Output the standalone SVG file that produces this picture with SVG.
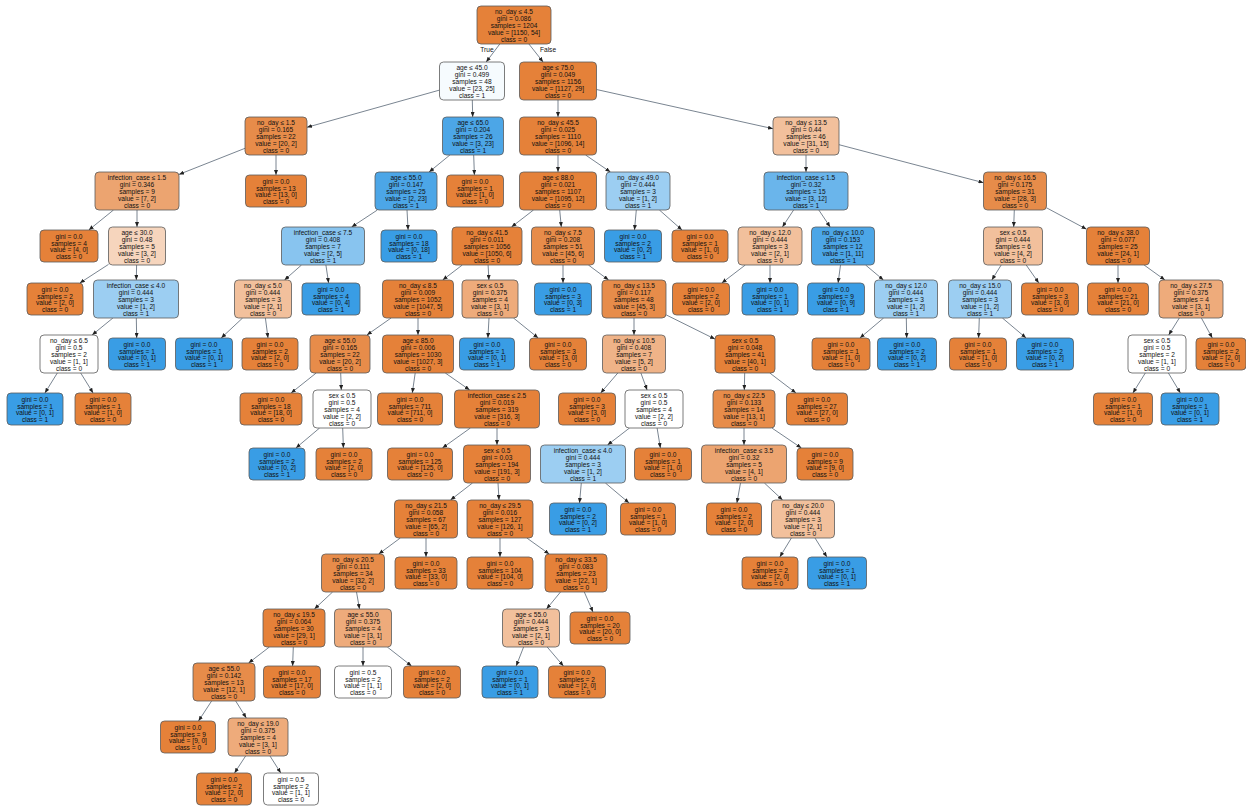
<svg xmlns="http://www.w3.org/2000/svg" width="1246" height="806" viewBox="0 0 1246 806">
<defs>
<marker id="ah" markerUnits="userSpaceOnUse" markerWidth="5" markerHeight="4" refX="5" refY="2" orient="auto"><path d="M0,0 L5,2 L0,4 z" fill="#222"/></marker>
<style>
g rect{stroke:#5a5a5a;stroke-width:0.8}
text{font-family:"Liberation Sans",Arial,sans-serif;font-size:6.6px;fill:#111;text-anchor:middle}
.e{stroke:#6b7785;stroke-width:0.9;fill:none;marker-end:url(#ah)}
.o{fill:#e58139}.o9{fill:#e78c4a}.o6{fill:#eca470}.o5{fill:#eeab7b}.o45{fill:#efb388}.o4{fill:#f2c09c}.o2{fill:#f6d5bd}
.w{fill:#ffffff}.w1{fill:#f6fbfe}.b{fill:#399de5}.b9{fill:#4ca6e7}.b7{fill:#6ab5eb}.b6{fill:#88c4ef}.b5{fill:#9ccef2}
</style>
</defs>
<rect x="0" y="0" width="1246" height="806" fill="#ffffff"/>
<g id="connectors">
<path class="e" d="M499.8,44 L486.2,62"/><path class="e" d="M528.9,44 L543.1,62"/>
<path class="e" d="M439.5,90.1 L307,127.3"/><path class="e" d="M472.3,100 L472.7,117"/>
<path class="e" d="M558,100 L558,117"/><path class="e" d="M596.5,89.5 L773,128.7"/>
<path class="e" d="M245,148.3 L179,174.4"/><path class="e" d="M276,155 L276,175"/>
<path class="e" d="M449.9,155 L429.1,172"/><path class="e" d="M473.7,155 L474.4,175"/>
<path class="e" d="M558,155 L558,172"/><path class="e" d="M585.6,155 L610.4,172"/>
<path class="e" d="M806,155 L806,172"/><path class="e" d="M839,144.7 L983.5,182.7"/>
<path class="e" d="M113.5,210 L88.8,230"/><path class="e" d="M137,210 L137,227"/>
<path class="e" d="M377.4,210 L351.6,227"/><path class="e" d="M407,210 L408.1,230"/>
<path class="e" d="M533.5,210 L511.5,227"/><path class="e" d="M559.7,210 L561.3,227"/>
<path class="e" d="M636.3,210 L634.5,230"/><path class="e" d="M659.4,210 L682,230"/>
<path class="e" d="M793.6,210 L782.4,227"/><path class="e" d="M818.8,210 L830.2,227"/>
<path class="e" d="M1014.3,210 L1013.7,227"/><path class="e" d="M1046.5,207.8 L1086.5,229.2"/>
<path class="e" d="M108.5,264.4 L79.8,283"/><path class="e" d="M136.6,265 L136.3,280"/>
<path class="e" d="M301.5,265 L284.5,280"/><path class="e" d="M325.9,265 L328.6,283"/>
<path class="e" d="M462.3,265 L442.7,280"/><path class="e" d="M488.1,265 L488.9,280"/>
<path class="e" d="M563,265 L563,283"/><path class="e" d="M588.4,265 L608.6,280"/>
<path class="e" d="M745.3,265 L721.8,283"/><path class="e" d="M770,265 L770,283"/>
<path class="e" d="M840.5,265 L838.1,283"/><path class="e" d="M865.6,265 L883.4,280"/>
<path class="e" d="M1001.2,265 L991.8,280"/><path class="e" d="M1026.2,265 L1038.8,283"/>
<path class="e" d="M1118,265 L1118,283"/><path class="e" d="M1144.1,265 L1164.9,280"/>
<path class="e" d="M112.9,318 L92.1,335"/><path class="e" d="M136.3,318 L136.7,338"/>
<path class="e" d="M242.6,318 L221.2,338"/><path class="e" d="M265.4,318 L268,338"/>
<path class="e" d="M391.1,318 L366.9,335"/><path class="e" d="M418,318 L418,335"/>
<path class="e" d="M489,318 L487.9,338"/><path class="e" d="M513.5,318 L538.2,338"/>
<path class="e" d="M634,318 L634,335"/><path class="e" d="M666,314.8 L715,339.1"/>
<path class="e" d="M883.6,318 L859.9,338"/><path class="e" d="M906.3,318 L906.7,338"/>
<path class="e" d="M979.3,318 L978.6,338"/><path class="e" d="M1002.4,318 L1026.1,338"/>
<path class="e" d="M1179.3,318 L1168.7,335"/><path class="e" d="M1201.4,318 L1212.3,338"/>
<path class="e" d="M57.3,373 L44.9,393"/><path class="e" d="M80.7,373 L93.1,393"/>
<path class="e" d="M316.2,373 L291.1,393"/><path class="e" d="M340.7,373 L341.3,390"/>
<path class="e" d="M415.2,373 L412.3,393"/><path class="e" d="M445.3,373 L469.7,390"/>
<path class="e" d="M617.8,373 L600.7,393"/><path class="e" d="M640.9,373 L647.1,390"/>
<path class="e" d="M744.7,373 L744.3,390"/><path class="e" d="M769.8,373 L796,393"/>
<path class="e" d="M1145.3,373 L1132.9,393"/><path class="e" d="M1168.4,373 L1180.4,393"/>
<path class="e" d="M319.6,428 L295.9,448"/><path class="e" d="M342.7,428 L343.4,448"/>
<path class="e" d="M470.4,428 L442.4,448"/><path class="e" d="M497,428 L497,445"/>
<path class="e" d="M629.5,428 L607.5,445"/><path class="e" d="M657.1,428 L660.4,448"/>
<path class="e" d="M744,428 L744,445"/><path class="e" d="M771.9,428 L801.4,448"/>
<path class="e" d="M472.5,483 L450.5,500"/><path class="e" d="M498,483 L499,500"/>
<path class="e" d="M581.3,483 L579.5,503"/><path class="e" d="M605.4,483 L629.1,503"/>
<path class="e" d="M740.5,483 L736.9,503"/><path class="e" d="M764.4,483 L782.6,500"/>
<path class="e" d="M791.4,538 L779.8,557"/><path class="e" d="M815,538 L826.9,557"/>
<path class="e" d="M400.3,538 L378.7,554"/><path class="e" d="M426,538 L426,557"/>
<path class="e" d="M500,538 L500,557"/><path class="e" d="M526.8,538 L549.2,554"/>
<path class="e" d="M332.6,592 L314.4,609"/><path class="e" d="M356.5,592 L359.5,609"/>
<path class="e" d="M560.5,592 L546.5,609"/><path class="e" d="M584.3,592 L593,612"/>
<path class="e" d="M269.4,647 L248.6,663"/><path class="e" d="M293.3,647 L292.6,666"/>
<path class="e" d="M363,647 L363,666"/><path class="e" d="M387.3,647 L411.6,666"/>
<path class="e" d="M523.6,647 L516.2,666"/><path class="e" d="M547.2,647 L563.4,666"/>
<path class="e" d="M211.6,701 L198.5,721"/><path class="e" d="M235.7,701 L246.3,718"/>
<path class="e" d="M245.6,756 L234.5,773"/><path class="e" d="M270,756 L280.8,773"/>
<text x="487" y="51.5">True</text><text x="548" y="51.5">False</text>
</g>
<g id="n0"><rect class="o" x="477" y="6" width="74" height="38" rx="4"/><text><tspan x="514" y="14.2">no_day ≤ 4.5</tspan><tspan x="514" y="21.1">gini = 0.086</tspan><tspan x="514" y="28">samples = 1204</tspan><tspan x="514" y="34.9">value = [1150, 54]</tspan><tspan x="514" y="41.8">class = 0</tspan></text></g>
<g id="n1"><rect class="w1" x="439.5" y="62" width="65" height="38" rx="4"/><text><tspan x="472" y="70.2">age ≤ 45.0</tspan><tspan x="472" y="77.1">gini = 0.499</tspan><tspan x="472" y="84">samples = 48</tspan><tspan x="472" y="90.9">value = [23, 25]</tspan><tspan x="472" y="97.8">class = 1</tspan></text></g>
<g id="n2"><rect class="o" x="519.5" y="62" width="77" height="38" rx="4"/><text><tspan x="558" y="70.2">age ≤ 75.0</tspan><tspan x="558" y="77.1">gini = 0.049</tspan><tspan x="558" y="84">samples = 1156</tspan><tspan x="558" y="90.9">value = [1127, 29]</tspan><tspan x="558" y="97.8">class = 0</tspan></text></g>
<g id="n3"><rect class="o9" x="245" y="117" width="62" height="38" rx="4"/><text><tspan x="276" y="125.2">no_day ≤ 1.5</tspan><tspan x="276" y="132.1">gini = 0.165</tspan><tspan x="276" y="139">samples = 22</tspan><tspan x="276" y="145.9">value = [20, 2]</tspan><tspan x="276" y="152.8">class = 0</tspan></text></g>
<g id="n4"><rect class="b9" x="442.5" y="117" width="61" height="38" rx="4"/><text><tspan x="473" y="125.2">age ≤ 65.0</tspan><tspan x="473" y="132.1">gini = 0.204</tspan><tspan x="473" y="139">samples = 26</tspan><tspan x="473" y="145.9">value = [3, 23]</tspan><tspan x="473" y="152.8">class = 1</tspan></text></g>
<g id="n5"><rect class="o" x="519.5" y="117" width="77" height="38" rx="4"/><text><tspan x="558" y="125.2">no_day ≤ 45.5</tspan><tspan x="558" y="132.1">gini = 0.025</tspan><tspan x="558" y="139">samples = 1110</tspan><tspan x="558" y="145.9">value = [1096, 14]</tspan><tspan x="558" y="152.8">class = 0</tspan></text></g>
<g id="n6"><rect class="o4" x="773" y="117" width="66" height="38" rx="4"/><text><tspan x="806" y="125.2">no_day ≤ 13.5</tspan><tspan x="806" y="132.1">gini = 0.44</tspan><tspan x="806" y="139">samples = 46</tspan><tspan x="806" y="145.9">value = [31, 15]</tspan><tspan x="806" y="152.8">class = 0</tspan></text></g>
<g id="n7"><rect class="o6" x="95" y="172" width="84" height="38" rx="4"/><text><tspan x="137" y="180.2">infection_case ≤ 1.5</tspan><tspan x="137" y="187.1">gini = 0.346</tspan><tspan x="137" y="194">samples = 9</tspan><tspan x="137" y="200.9">value = [7, 2]</tspan><tspan x="137" y="207.8">class = 0</tspan></text></g>
<g id="n8"><rect class="o" x="245.5" y="175" width="61" height="32" rx="4"/><text><tspan x="276" y="183.6">gini = 0.0</tspan><tspan x="276" y="190.5">samples = 13</tspan><tspan x="276" y="197.4">value = [13, 0]</tspan><tspan x="276" y="204.3">class = 0</tspan></text></g>
<g id="n9"><rect class="b9" x="375" y="172" width="62" height="38" rx="4"/><text><tspan x="406" y="180.2">age ≤ 55.0</tspan><tspan x="406" y="187.1">gini = 0.147</tspan><tspan x="406" y="194">samples = 25</tspan><tspan x="406" y="200.9">value = [2, 23]</tspan><tspan x="406" y="207.8">class = 1</tspan></text></g>
<g id="n10"><rect class="o" x="446.5" y="175" width="57" height="32" rx="4"/><text><tspan x="475" y="183.6">gini = 0.0</tspan><tspan x="475" y="190.5">samples = 1</tspan><tspan x="475" y="197.4">value = [1, 0]</tspan><tspan x="475" y="204.3">class = 0</tspan></text></g>
<g id="n11"><rect class="o" x="519.5" y="172" width="77" height="38" rx="4"/><text><tspan x="558" y="180.2">age ≤ 88.0</tspan><tspan x="558" y="187.1">gini = 0.021</tspan><tspan x="558" y="194">samples = 1107</tspan><tspan x="558" y="200.9">value = [1095, 12]</tspan><tspan x="558" y="207.8">class = 0</tspan></text></g>
<g id="n12"><rect class="b5" x="606" y="172" width="64" height="38" rx="4"/><text><tspan x="638" y="180.2">no_day ≤ 49.0</tspan><tspan x="638" y="187.1">gini = 0.444</tspan><tspan x="638" y="194">samples = 3</tspan><tspan x="638" y="200.9">value = [1, 2]</tspan><tspan x="638" y="207.8">class = 1</tspan></text></g>
<g id="n13"><rect class="b7" x="764" y="172" width="84" height="38" rx="4"/><text><tspan x="806" y="180.2">infection_case ≤ 1.5</tspan><tspan x="806" y="187.1">gini = 0.32</tspan><tspan x="806" y="194">samples = 15</tspan><tspan x="806" y="200.9">value = [3, 12]</tspan><tspan x="806" y="207.8">class = 1</tspan></text></g>
<g id="n14"><rect class="o9" x="983.5" y="172" width="63" height="38" rx="4"/><text><tspan x="1015" y="180.2">no_day ≤ 16.5</tspan><tspan x="1015" y="187.1">gini = 0.175</tspan><tspan x="1015" y="194">samples = 31</tspan><tspan x="1015" y="200.9">value = [28, 3]</tspan><tspan x="1015" y="207.8">class = 0</tspan></text></g>
<g id="n15"><rect class="o" x="40" y="230" width="58" height="32" rx="4"/><text><tspan x="69" y="238.6">gini = 0.0</tspan><tspan x="69" y="245.5">samples = 4</tspan><tspan x="69" y="252.4">value = [4, 0]</tspan><tspan x="69" y="259.3">class = 0</tspan></text></g>
<g id="n16"><rect class="o2" x="108.5" y="227" width="57" height="38" rx="4"/><text><tspan x="137" y="235.2">age ≤ 30.0</tspan><tspan x="137" y="242.1">gini = 0.48</tspan><tspan x="137" y="249">samples = 5</tspan><tspan x="137" y="255.9">value = [3, 2]</tspan><tspan x="137" y="262.8">class = 0</tspan></text></g>
<g id="n17"><rect class="b6" x="281.5" y="227" width="83" height="38" rx="4"/><text><tspan x="323" y="235.2">infection_case ≤ 7.5</tspan><tspan x="323" y="242.1">gini = 0.408</tspan><tspan x="323" y="249">samples = 7</tspan><tspan x="323" y="255.9">value = [2, 5]</tspan><tspan x="323" y="262.8">class = 1</tspan></text></g>
<g id="n18"><rect class="b" x="381" y="230" width="56" height="32" rx="4"/><text><tspan x="409" y="238.6">gini = 0.0</tspan><tspan x="409" y="245.5">samples = 18</tspan><tspan x="409" y="252.4">value = [0, 18]</tspan><tspan x="409" y="259.3">class = 1</tspan></text></g>
<g id="n19"><rect class="o" x="452" y="227" width="70" height="38" rx="4"/><text><tspan x="487" y="235.2">no_day ≤ 41.5</tspan><tspan x="487" y="242.1">gini = 0.011</tspan><tspan x="487" y="249">samples = 1056</tspan><tspan x="487" y="255.9">value = [1050, 6]</tspan><tspan x="487" y="262.8">class = 0</tspan></text></g>
<g id="n20"><rect class="o9" x="531.5" y="227" width="63" height="38" rx="4"/><text><tspan x="563" y="235.2">no_day ≤ 7.5</tspan><tspan x="563" y="242.1">gini = 0.208</tspan><tspan x="563" y="249">samples = 51</tspan><tspan x="563" y="255.9">value = [45, 6]</tspan><tspan x="563" y="262.8">class = 0</tspan></text></g>
<g id="n21"><rect class="b" x="604.5" y="230" width="57" height="32" rx="4"/><text><tspan x="633" y="238.6">gini = 0.0</tspan><tspan x="633" y="245.5">samples = 2</tspan><tspan x="633" y="252.4">value = [0, 2]</tspan><tspan x="633" y="259.3">class = 1</tspan></text></g>
<g id="n22"><rect class="o" x="672" y="230" width="56" height="32" rx="4"/><text><tspan x="700" y="238.6">gini = 0.0</tspan><tspan x="700" y="245.5">samples = 1</tspan><tspan x="700" y="252.4">value = [1, 0]</tspan><tspan x="700" y="259.3">class = 0</tspan></text></g>
<g id="n23"><rect class="o4" x="738" y="227" width="64" height="38" rx="4"/><text><tspan x="770" y="235.2">no_day ≤ 12.0</tspan><tspan x="770" y="242.1">gini = 0.444</tspan><tspan x="770" y="249">samples = 3</tspan><tspan x="770" y="255.9">value = [2, 1]</tspan><tspan x="770" y="262.8">class = 0</tspan></text></g>
<g id="n24"><rect class="b9" x="811.5" y="227" width="63" height="38" rx="4"/><text><tspan x="843" y="235.2">no_day ≤ 10.0</tspan><tspan x="843" y="242.1">gini = 0.153</tspan><tspan x="843" y="249">samples = 12</tspan><tspan x="843" y="255.9">value = [1, 11]</tspan><tspan x="843" y="262.8">class = 1</tspan></text></g>
<g id="n25"><rect class="o4" x="983.5" y="227" width="59" height="38" rx="4"/><text><tspan x="1013" y="235.2">sex ≤ 0.5</tspan><tspan x="1013" y="242.1">gini = 0.444</tspan><tspan x="1013" y="249">samples = 6</tspan><tspan x="1013" y="255.9">value = [4, 2]</tspan><tspan x="1013" y="262.8">class = 0</tspan></text></g>
<g id="n26"><rect class="o" x="1086.5" y="227" width="63" height="38" rx="4"/><text><tspan x="1118" y="235.2">no_day ≤ 38.0</tspan><tspan x="1118" y="242.1">gini = 0.077</tspan><tspan x="1118" y="249">samples = 25</tspan><tspan x="1118" y="255.9">value = [24, 1]</tspan><tspan x="1118" y="262.8">class = 0</tspan></text></g>
<g id="n27"><rect class="o" x="27" y="283" width="56" height="32" rx="4"/><text><tspan x="55" y="291.6">gini = 0.0</tspan><tspan x="55" y="298.5">samples = 2</tspan><tspan x="55" y="305.4">value = [2, 0]</tspan><tspan x="55" y="312.3">class = 0</tspan></text></g>
<g id="n28"><rect class="b5" x="93.5" y="280" width="85" height="38" rx="4"/><text><tspan x="136" y="288.2">infection_case ≤ 4.0</tspan><tspan x="136" y="295.1">gini = 0.444</tspan><tspan x="136" y="302">samples = 3</tspan><tspan x="136" y="308.9">value = [1, 2]</tspan><tspan x="136" y="315.8">class = 1</tspan></text></g>
<g id="n29"><rect class="o4" x="234.5" y="280" width="57" height="38" rx="4"/><text><tspan x="263" y="288.2">no_day ≤ 5.0</tspan><tspan x="263" y="295.1">gini = 0.444</tspan><tspan x="263" y="302">samples = 3</tspan><tspan x="263" y="308.9">value = [2, 1]</tspan><tspan x="263" y="315.8">class = 0</tspan></text></g>
<g id="n30"><rect class="b" x="302" y="283" width="58" height="32" rx="4"/><text><tspan x="331" y="291.6">gini = 0.0</tspan><tspan x="331" y="298.5">samples = 4</tspan><tspan x="331" y="305.4">value = [0, 4]</tspan><tspan x="331" y="312.3">class = 1</tspan></text></g>
<g id="n31"><rect class="o" x="382.5" y="280" width="71" height="38" rx="4"/><text><tspan x="418" y="288.2">no_day ≤ 8.5</tspan><tspan x="418" y="295.1">gini = 0.009</tspan><tspan x="418" y="302">samples = 1052</tspan><tspan x="418" y="308.9">value = [1047, 5]</tspan><tspan x="418" y="315.8">class = 0</tspan></text></g>
<g id="n32"><rect class="o5" x="462" y="280" width="56" height="38" rx="4"/><text><tspan x="490" y="288.2">sex ≤ 0.5</tspan><tspan x="490" y="295.1">gini = 0.375</tspan><tspan x="490" y="302">samples = 4</tspan><tspan x="490" y="308.9">value = [3, 1]</tspan><tspan x="490" y="315.8">class = 0</tspan></text></g>
<g id="n33"><rect class="b" x="534.5" y="283" width="57" height="32" rx="4"/><text><tspan x="563" y="291.6">gini = 0.0</tspan><tspan x="563" y="298.5">samples = 3</tspan><tspan x="563" y="305.4">value = [0, 3]</tspan><tspan x="563" y="312.3">class = 1</tspan></text></g>
<g id="n34"><rect class="o9" x="602" y="280" width="64" height="38" rx="4"/><text><tspan x="634" y="288.2">no_day ≤ 13.5</tspan><tspan x="634" y="295.1">gini = 0.117</tspan><tspan x="634" y="302">samples = 48</tspan><tspan x="634" y="308.9">value = [45, 3]</tspan><tspan x="634" y="315.8">class = 0</tspan></text></g>
<g id="n35"><rect class="o" x="672.5" y="283" width="57" height="32" rx="4"/><text><tspan x="701" y="291.6">gini = 0.0</tspan><tspan x="701" y="298.5">samples = 2</tspan><tspan x="701" y="305.4">value = [2, 0]</tspan><tspan x="701" y="312.3">class = 0</tspan></text></g>
<g id="n36"><rect class="b" x="742" y="283" width="56" height="32" rx="4"/><text><tspan x="770" y="291.6">gini = 0.0</tspan><tspan x="770" y="298.5">samples = 1</tspan><tspan x="770" y="305.4">value = [0, 1]</tspan><tspan x="770" y="312.3">class = 1</tspan></text></g>
<g id="n37"><rect class="b" x="807.5" y="283" width="57" height="32" rx="4"/><text><tspan x="836" y="291.6">gini = 0.0</tspan><tspan x="836" y="298.5">samples = 9</tspan><tspan x="836" y="305.4">value = [0, 9]</tspan><tspan x="836" y="312.3">class = 1</tspan></text></g>
<g id="n38"><rect class="b5" x="874.5" y="280" width="63" height="38" rx="4"/><text><tspan x="906" y="288.2">no_day ≤ 12.0</tspan><tspan x="906" y="295.1">gini = 0.444</tspan><tspan x="906" y="302">samples = 3</tspan><tspan x="906" y="308.9">value = [1, 2]</tspan><tspan x="906" y="315.8">class = 1</tspan></text></g>
<g id="n39"><rect class="b5" x="948.5" y="280" width="63" height="38" rx="4"/><text><tspan x="980" y="288.2">no_day ≤ 15.0</tspan><tspan x="980" y="295.1">gini = 0.444</tspan><tspan x="980" y="302">samples = 3</tspan><tspan x="980" y="308.9">value = [1, 2]</tspan><tspan x="980" y="315.8">class = 1</tspan></text></g>
<g id="n40"><rect class="o" x="1021.5" y="283" width="57" height="32" rx="4"/><text><tspan x="1050" y="291.6">gini = 0.0</tspan><tspan x="1050" y="298.5">samples = 3</tspan><tspan x="1050" y="305.4">value = [3, 0]</tspan><tspan x="1050" y="312.3">class = 0</tspan></text></g>
<g id="n41"><rect class="o" x="1087.5" y="283" width="61" height="32" rx="4"/><text><tspan x="1118" y="291.6">gini = 0.0</tspan><tspan x="1118" y="298.5">samples = 21</tspan><tspan x="1118" y="305.4">value = [21, 0]</tspan><tspan x="1118" y="312.3">class = 0</tspan></text></g>
<g id="n42"><rect class="o5" x="1159" y="280" width="64" height="38" rx="4"/><text><tspan x="1191" y="288.2">no_day ≤ 27.5</tspan><tspan x="1191" y="295.1">gini = 0.375</tspan><tspan x="1191" y="302">samples = 4</tspan><tspan x="1191" y="308.9">value = [3, 1]</tspan><tspan x="1191" y="315.8">class = 0</tspan></text></g>
<g id="n43"><rect class="w" x="40" y="335" width="58" height="38" rx="4"/><text><tspan x="69" y="343.2">no_day ≤ 6.5</tspan><tspan x="69" y="350.1">gini = 0.5</tspan><tspan x="69" y="357">samples = 2</tspan><tspan x="69" y="363.9">value = [1, 1]</tspan><tspan x="69" y="370.8">class = 0</tspan></text></g>
<g id="n44"><rect class="b" x="108.5" y="338" width="57" height="32" rx="4"/><text><tspan x="137" y="346.6">gini = 0.0</tspan><tspan x="137" y="353.5">samples = 1</tspan><tspan x="137" y="360.4">value = [0, 1]</tspan><tspan x="137" y="367.3">class = 1</tspan></text></g>
<g id="n45"><rect class="b" x="175.5" y="338" width="57" height="32" rx="4"/><text><tspan x="204" y="346.6">gini = 0.0</tspan><tspan x="204" y="353.5">samples = 1</tspan><tspan x="204" y="360.4">value = [0, 1]</tspan><tspan x="204" y="367.3">class = 1</tspan></text></g>
<g id="n46"><rect class="o" x="242" y="338" width="56" height="32" rx="4"/><text><tspan x="270" y="346.6">gini = 0.0</tspan><tspan x="270" y="353.5">samples = 2</tspan><tspan x="270" y="360.4">value = [2, 0]</tspan><tspan x="270" y="367.3">class = 0</tspan></text></g>
<g id="n47"><rect class="o9" x="310" y="335" width="60" height="38" rx="4"/><text><tspan x="340" y="343.2">age ≤ 55.0</tspan><tspan x="340" y="350.1">gini = 0.165</tspan><tspan x="340" y="357">samples = 22</tspan><tspan x="340" y="363.9">value = [20, 2]</tspan><tspan x="340" y="370.8">class = 0</tspan></text></g>
<g id="n48"><rect class="o" x="382.5" y="335" width="71" height="38" rx="4"/><text><tspan x="418" y="343.2">age ≤ 85.0</tspan><tspan x="418" y="350.1">gini = 0.006</tspan><tspan x="418" y="357">samples = 1030</tspan><tspan x="418" y="363.9">value = [1027, 3]</tspan><tspan x="418" y="370.8">class = 0</tspan></text></g>
<g id="n49"><rect class="b" x="459.5" y="338" width="55" height="32" rx="4"/><text><tspan x="487" y="346.6">gini = 0.0</tspan><tspan x="487" y="353.5">samples = 1</tspan><tspan x="487" y="360.4">value = [0, 1]</tspan><tspan x="487" y="367.3">class = 1</tspan></text></g>
<g id="n50"><rect class="o" x="529.5" y="338" width="57" height="32" rx="4"/><text><tspan x="558" y="346.6">gini = 0.0</tspan><tspan x="558" y="353.5">samples = 3</tspan><tspan x="558" y="360.4">value = [3, 0]</tspan><tspan x="558" y="367.3">class = 0</tspan></text></g>
<g id="n51"><rect class="o45" x="602.5" y="335" width="63" height="38" rx="4"/><text><tspan x="634" y="343.2">no_day ≤ 10.5</tspan><tspan x="634" y="350.1">gini = 0.408</tspan><tspan x="634" y="357">samples = 7</tspan><tspan x="634" y="363.9">value = [5, 2]</tspan><tspan x="634" y="370.8">class = 0</tspan></text></g>
<g id="n52"><rect class="o" x="715" y="335" width="60" height="38" rx="4"/><text><tspan x="745" y="343.2">sex ≤ 0.5</tspan><tspan x="745" y="350.1">gini = 0.048</tspan><tspan x="745" y="357">samples = 41</tspan><tspan x="745" y="363.9">value = [40, 1]</tspan><tspan x="745" y="370.8">class = 0</tspan></text></g>
<g id="n53"><rect class="o" x="812" y="338" width="58" height="32" rx="4"/><text><tspan x="841" y="346.6">gini = 0.0</tspan><tspan x="841" y="353.5">samples = 1</tspan><tspan x="841" y="360.4">value = [1, 0]</tspan><tspan x="841" y="367.3">class = 0</tspan></text></g>
<g id="n54"><rect class="b" x="877.5" y="338" width="59" height="32" rx="4"/><text><tspan x="907" y="346.6">gini = 0.0</tspan><tspan x="907" y="353.5">samples = 2</tspan><tspan x="907" y="360.4">value = [0, 2]</tspan><tspan x="907" y="367.3">class = 1</tspan></text></g>
<g id="n55"><rect class="o" x="949.5" y="338" width="57" height="32" rx="4"/><text><tspan x="978" y="346.6">gini = 0.0</tspan><tspan x="978" y="353.5">samples = 1</tspan><tspan x="978" y="360.4">value = [1, 0]</tspan><tspan x="978" y="367.3">class = 0</tspan></text></g>
<g id="n56"><rect class="b" x="1016.5" y="338" width="57" height="32" rx="4"/><text><tspan x="1045" y="346.6">gini = 0.0</tspan><tspan x="1045" y="353.5">samples = 2</tspan><tspan x="1045" y="360.4">value = [0, 2]</tspan><tspan x="1045" y="367.3">class = 1</tspan></text></g>
<g id="n57"><rect class="w" x="1128" y="335" width="58" height="38" rx="4"/><text><tspan x="1157" y="343.2">sex ≤ 0.5</tspan><tspan x="1157" y="350.1">gini = 0.5</tspan><tspan x="1157" y="357">samples = 2</tspan><tspan x="1157" y="363.9">value = [1, 1]</tspan><tspan x="1157" y="370.8">class = 0</tspan></text></g>
<g id="n58"><rect class="o" x="1196" y="338" width="50" height="32" rx="4"/><text><tspan x="1221" y="346.6">gini = 0.0</tspan><tspan x="1221" y="353.5">samples = 2</tspan><tspan x="1221" y="360.4">value = [2, 0]</tspan><tspan x="1221" y="367.3">class = 0</tspan></text></g>
<g id="n59"><rect class="b" x="7" y="393" width="56" height="32" rx="4"/><text><tspan x="35" y="401.6">gini = 0.0</tspan><tspan x="35" y="408.5">samples = 1</tspan><tspan x="35" y="415.4">value = [0, 1]</tspan><tspan x="35" y="422.3">class = 1</tspan></text></g>
<g id="n60"><rect class="o" x="75" y="393" width="56" height="32" rx="4"/><text><tspan x="103" y="401.6">gini = 0.0</tspan><tspan x="103" y="408.5">samples = 1</tspan><tspan x="103" y="415.4">value = [1, 0]</tspan><tspan x="103" y="422.3">class = 0</tspan></text></g>
<g id="n61"><rect class="o" x="240" y="393" width="62" height="32" rx="4"/><text><tspan x="271" y="401.6">gini = 0.0</tspan><tspan x="271" y="408.5">samples = 18</tspan><tspan x="271" y="415.4">value = [18, 0]</tspan><tspan x="271" y="422.3">class = 0</tspan></text></g>
<g id="n62"><rect class="w" x="313" y="390" width="58" height="38" rx="4"/><text><tspan x="342" y="398.2">sex ≤ 0.5</tspan><tspan x="342" y="405.1">gini = 0.5</tspan><tspan x="342" y="412">samples = 4</tspan><tspan x="342" y="418.9">value = [2, 2]</tspan><tspan x="342" y="425.8">class = 0</tspan></text></g>
<g id="n63"><rect class="o" x="377.5" y="393" width="65" height="32" rx="4"/><text><tspan x="410" y="401.6">gini = 0.0</tspan><tspan x="410" y="408.5">samples = 711</tspan><tspan x="410" y="415.4">value = [711, 0]</tspan><tspan x="410" y="422.3">class = 0</tspan></text></g>
<g id="n64"><rect class="o" x="454.5" y="390" width="85" height="38" rx="4"/><text><tspan x="497" y="398.2">infection_case ≤ 2.5</tspan><tspan x="497" y="405.1">gini = 0.019</tspan><tspan x="497" y="412">samples = 319</tspan><tspan x="497" y="418.9">value = [316, 3]</tspan><tspan x="497" y="425.8">class = 0</tspan></text></g>
<g id="n65"><rect class="o" x="558.5" y="393" width="57" height="32" rx="4"/><text><tspan x="587" y="401.6">gini = 0.0</tspan><tspan x="587" y="408.5">samples = 3</tspan><tspan x="587" y="415.4">value = [3, 0]</tspan><tspan x="587" y="422.3">class = 0</tspan></text></g>
<g id="n66"><rect class="w" x="625" y="390" width="58" height="38" rx="4"/><text><tspan x="654" y="398.2">sex ≤ 0.5</tspan><tspan x="654" y="405.1">gini = 0.5</tspan><tspan x="654" y="412">samples = 4</tspan><tspan x="654" y="418.9">value = [2, 2]</tspan><tspan x="654" y="425.8">class = 0</tspan></text></g>
<g id="n67"><rect class="o9" x="713" y="390" width="62" height="38" rx="4"/><text><tspan x="744" y="398.2">no_day ≤ 22.5</tspan><tspan x="744" y="405.1">gini = 0.133</tspan><tspan x="744" y="412">samples = 14</tspan><tspan x="744" y="418.9">value = [13, 1]</tspan><tspan x="744" y="425.8">class = 0</tspan></text></g>
<g id="n68"><rect class="o" x="786.5" y="393" width="61" height="32" rx="4"/><text><tspan x="817" y="401.6">gini = 0.0</tspan><tspan x="817" y="408.5">samples = 27</tspan><tspan x="817" y="415.4">value = [27, 0]</tspan><tspan x="817" y="422.3">class = 0</tspan></text></g>
<g id="n69"><rect class="o" x="1093.5" y="393" width="59" height="32" rx="4"/><text><tspan x="1123" y="401.6">gini = 0.0</tspan><tspan x="1123" y="408.5">samples = 1</tspan><tspan x="1123" y="415.4">value = [1, 0]</tspan><tspan x="1123" y="422.3">class = 0</tspan></text></g>
<g id="n70"><rect class="b" x="1161" y="393" width="58" height="32" rx="4"/><text><tspan x="1190" y="401.6">gini = 0.0</tspan><tspan x="1190" y="408.5">samples = 1</tspan><tspan x="1190" y="415.4">value = [0, 1]</tspan><tspan x="1190" y="422.3">class = 1</tspan></text></g>
<g id="n71"><rect class="b" x="249" y="448" width="56" height="32" rx="4"/><text><tspan x="277" y="456.6">gini = 0.0</tspan><tspan x="277" y="463.5">samples = 2</tspan><tspan x="277" y="470.4">value = [0, 2]</tspan><tspan x="277" y="477.3">class = 1</tspan></text></g>
<g id="n72"><rect class="o" x="316" y="448" width="56" height="32" rx="4"/><text><tspan x="344" y="456.6">gini = 0.0</tspan><tspan x="344" y="463.5">samples = 2</tspan><tspan x="344" y="470.4">value = [2, 0]</tspan><tspan x="344" y="477.3">class = 0</tspan></text></g>
<g id="n73"><rect class="o" x="387.5" y="448" width="65" height="32" rx="4"/><text><tspan x="420" y="456.6">gini = 0.0</tspan><tspan x="420" y="463.5">samples = 125</tspan><tspan x="420" y="470.4">value = [125, 0]</tspan><tspan x="420" y="477.3">class = 0</tspan></text></g>
<g id="n74"><rect class="o" x="463.5" y="445" width="67" height="38" rx="4"/><text><tspan x="497" y="453.2">sex ≤ 0.5</tspan><tspan x="497" y="460.1">gini = 0.03</tspan><tspan x="497" y="467">samples = 194</tspan><tspan x="497" y="473.9">value = [191, 3]</tspan><tspan x="497" y="480.8">class = 0</tspan></text></g>
<g id="n75"><rect class="b5" x="540.5" y="445" width="85" height="38" rx="4"/><text><tspan x="583" y="453.2">infection_case ≤ 4.0</tspan><tspan x="583" y="460.1">gini = 0.444</tspan><tspan x="583" y="467">samples = 3</tspan><tspan x="583" y="473.9">value = [1, 2]</tspan><tspan x="583" y="480.8">class = 1</tspan></text></g>
<g id="n76"><rect class="o" x="634.5" y="448" width="57" height="32" rx="4"/><text><tspan x="663" y="456.6">gini = 0.0</tspan><tspan x="663" y="463.5">samples = 1</tspan><tspan x="663" y="470.4">value = [1, 0]</tspan><tspan x="663" y="477.3">class = 0</tspan></text></g>
<g id="n77"><rect class="o6" x="701.5" y="445" width="85" height="38" rx="4"/><text><tspan x="744" y="453.2">infection_case ≤ 3.5</tspan><tspan x="744" y="460.1">gini = 0.32</tspan><tspan x="744" y="467">samples = 5</tspan><tspan x="744" y="473.9">value = [4, 1]</tspan><tspan x="744" y="480.8">class = 0</tspan></text></g>
<g id="n78"><rect class="o" x="797" y="448" width="56" height="32" rx="4"/><text><tspan x="825" y="456.6">gini = 0.0</tspan><tspan x="825" y="463.5">samples = 9</tspan><tspan x="825" y="470.4">value = [9, 0]</tspan><tspan x="825" y="477.3">class = 0</tspan></text></g>
<g id="n79"><rect class="b" x="549.5" y="503" width="57" height="32" rx="4"/><text><tspan x="578" y="511.6">gini = 0.0</tspan><tspan x="578" y="518.5">samples = 2</tspan><tspan x="578" y="525.4">value = [0, 2]</tspan><tspan x="578" y="532.3">class = 1</tspan></text></g>
<g id="n80"><rect class="o" x="620.5" y="503" width="55" height="32" rx="4"/><text><tspan x="648" y="511.6">gini = 0.0</tspan><tspan x="648" y="518.5">samples = 1</tspan><tspan x="648" y="525.4">value = [1, 0]</tspan><tspan x="648" y="532.3">class = 0</tspan></text></g>
<g id="n81"><rect class="o" x="706.5" y="503" width="55" height="32" rx="4"/><text><tspan x="734" y="511.6">gini = 0.0</tspan><tspan x="734" y="518.5">samples = 2</tspan><tspan x="734" y="525.4">value = [2, 0]</tspan><tspan x="734" y="532.3">class = 0</tspan></text></g>
<g id="n82"><rect class="o4" x="771.5" y="500" width="63" height="38" rx="4"/><text><tspan x="803" y="508.2">no_day ≤ 20.0</tspan><tspan x="803" y="515.1">gini = 0.444</tspan><tspan x="803" y="522">samples = 3</tspan><tspan x="803" y="528.9">value = [2, 1]</tspan><tspan x="803" y="535.8">class = 0</tspan></text></g>
<g id="n83"><rect class="o" x="394.5" y="500" width="63" height="38" rx="4"/><text><tspan x="426" y="508.2">no_day ≤ 21.5</tspan><tspan x="426" y="515.1">gini = 0.058</tspan><tspan x="426" y="522">samples = 67</tspan><tspan x="426" y="528.9">value = [65, 2]</tspan><tspan x="426" y="535.8">class = 0</tspan></text></g>
<g id="n84"><rect class="o" x="467" y="500" width="66" height="38" rx="4"/><text><tspan x="500" y="508.2">no_day ≤ 29.5</tspan><tspan x="500" y="515.1">gini = 0.016</tspan><tspan x="500" y="522">samples = 127</tspan><tspan x="500" y="528.9">value = [126, 1]</tspan><tspan x="500" y="535.8">class = 0</tspan></text></g>
<g id="n85"><rect class="o" x="742" y="557" width="56" height="32" rx="4"/><text><tspan x="770" y="565.6">gini = 0.0</tspan><tspan x="770" y="572.5">samples = 2</tspan><tspan x="770" y="579.4">value = [2, 0]</tspan><tspan x="770" y="586.3">class = 0</tspan></text></g>
<g id="n86"><rect class="b" x="807.5" y="557" width="59" height="32" rx="4"/><text><tspan x="837" y="565.6">gini = 0.0</tspan><tspan x="837" y="572.5">samples = 1</tspan><tspan x="837" y="579.4">value = [0, 1]</tspan><tspan x="837" y="586.3">class = 1</tspan></text></g>
<g id="n87"><rect class="o9" x="321.5" y="554" width="63" height="38" rx="4"/><text><tspan x="353" y="562.2">no_day ≤ 20.5</tspan><tspan x="353" y="569.1">gini = 0.111</tspan><tspan x="353" y="576">samples = 34</tspan><tspan x="353" y="582.9">value = [32, 2]</tspan><tspan x="353" y="589.8">class = 0</tspan></text></g>
<g id="n88"><rect class="o" x="395" y="557" width="62" height="32" rx="4"/><text><tspan x="426" y="565.6">gini = 0.0</tspan><tspan x="426" y="572.5">samples = 33</tspan><tspan x="426" y="579.4">value = [33, 0]</tspan><tspan x="426" y="586.3">class = 0</tspan></text></g>
<g id="n89"><rect class="o" x="467" y="557" width="66" height="32" rx="4"/><text><tspan x="500" y="565.6">gini = 0.0</tspan><tspan x="500" y="572.5">samples = 104</tspan><tspan x="500" y="579.4">value = [104, 0]</tspan><tspan x="500" y="586.3">class = 0</tspan></text></g>
<g id="n90"><rect class="o" x="545" y="554" width="62" height="38" rx="4"/><text><tspan x="576" y="562.2">no_day ≤ 33.5</tspan><tspan x="576" y="569.1">gini = 0.083</tspan><tspan x="576" y="576">samples = 23</tspan><tspan x="576" y="582.9">value = [22, 1]</tspan><tspan x="576" y="589.8">class = 0</tspan></text></g>
<g id="n91"><rect class="o" x="263" y="609" width="62" height="38" rx="4"/><text><tspan x="294" y="617.2">no_day ≤ 19.5</tspan><tspan x="294" y="624.1">gini = 0.064</tspan><tspan x="294" y="631">samples = 30</tspan><tspan x="294" y="637.9">value = [29, 1]</tspan><tspan x="294" y="644.8">class = 0</tspan></text></g>
<g id="n92"><rect class="o5" x="334.5" y="609" width="57" height="38" rx="4"/><text><tspan x="363" y="617.2">age ≤ 55.0</tspan><tspan x="363" y="624.1">gini = 0.375</tspan><tspan x="363" y="631">samples = 4</tspan><tspan x="363" y="637.9">value = [3, 1]</tspan><tspan x="363" y="644.8">class = 0</tspan></text></g>
<g id="n93"><rect class="o4" x="502.5" y="609" width="57" height="38" rx="4"/><text><tspan x="531" y="617.2">age ≤ 55.0</tspan><tspan x="531" y="624.1">gini = 0.444</tspan><tspan x="531" y="631">samples = 3</tspan><tspan x="531" y="637.9">value = [2, 1]</tspan><tspan x="531" y="644.8">class = 0</tspan></text></g>
<g id="n94"><rect class="o" x="570" y="612" width="60" height="32" rx="4"/><text><tspan x="600" y="620.6">gini = 0.0</tspan><tspan x="600" y="627.5">samples = 20</tspan><tspan x="600" y="634.4">value = [20, 0]</tspan><tspan x="600" y="641.3">class = 0</tspan></text></g>
<g id="n95"><rect class="o9" x="193" y="663" width="62" height="38" rx="4"/><text><tspan x="224" y="671.2">age ≤ 55.0</tspan><tspan x="224" y="678.1">gini = 0.142</tspan><tspan x="224" y="685">samples = 13</tspan><tspan x="224" y="691.9">value = [12, 1]</tspan><tspan x="224" y="698.8">class = 0</tspan></text></g>
<g id="n96"><rect class="o" x="263.5" y="666" width="57" height="32" rx="4"/><text><tspan x="292" y="674.6">gini = 0.0</tspan><tspan x="292" y="681.5">samples = 17</tspan><tspan x="292" y="688.4">value = [17, 0]</tspan><tspan x="292" y="695.3">class = 0</tspan></text></g>
<g id="n97"><rect class="w" x="334.5" y="666" width="57" height="32" rx="4"/><text><tspan x="363" y="674.6">gini = 0.5</tspan><tspan x="363" y="681.5">samples = 2</tspan><tspan x="363" y="688.4">value = [1, 1]</tspan><tspan x="363" y="695.3">class = 0</tspan></text></g>
<g id="n98"><rect class="o" x="403.5" y="666" width="57" height="32" rx="4"/><text><tspan x="432" y="674.6">gini = 0.0</tspan><tspan x="432" y="681.5">samples = 2</tspan><tspan x="432" y="688.4">value = [2, 0]</tspan><tspan x="432" y="695.3">class = 0</tspan></text></g>
<g id="n99"><rect class="b" x="482" y="666" width="56" height="32" rx="4"/><text><tspan x="510" y="674.6">gini = 0.0</tspan><tspan x="510" y="681.5">samples = 1</tspan><tspan x="510" y="688.4">value = [0, 1]</tspan><tspan x="510" y="695.3">class = 1</tspan></text></g>
<g id="n100"><rect class="o" x="548.5" y="666" width="57" height="32" rx="4"/><text><tspan x="577" y="674.6">gini = 0.0</tspan><tspan x="577" y="681.5">samples = 2</tspan><tspan x="577" y="688.4">value = [2, 0]</tspan><tspan x="577" y="695.3">class = 0</tspan></text></g>
<g id="n101"><rect class="o" x="160.5" y="721" width="55" height="32" rx="4"/><text><tspan x="188" y="729.6">gini = 0.0</tspan><tspan x="188" y="736.5">samples = 9</tspan><tspan x="188" y="743.4">value = [9, 0]</tspan><tspan x="188" y="750.3">class = 0</tspan></text></g>
<g id="n102"><rect class="o5" x="228" y="718" width="60" height="38" rx="4"/><text><tspan x="258" y="726.2">no_day ≤ 19.0</tspan><tspan x="258" y="733.1">gini = 0.375</tspan><tspan x="258" y="740">samples = 4</tspan><tspan x="258" y="746.9">value = [3, 1]</tspan><tspan x="258" y="753.8">class = 0</tspan></text></g>
<g id="n103"><rect class="o" x="196.5" y="773" width="55" height="32" rx="4"/><text><tspan x="224" y="781.6">gini = 0.0</tspan><tspan x="224" y="788.5">samples = 2</tspan><tspan x="224" y="795.4">value = [2, 0]</tspan><tspan x="224" y="802.3">class = 0</tspan></text></g>
<g id="n104"><rect class="w" x="263.5" y="773" width="55" height="32" rx="4"/><text><tspan x="291" y="781.6">gini = 0.5</tspan><tspan x="291" y="788.5">samples = 2</tspan><tspan x="291" y="795.4">value = [1, 1]</tspan><tspan x="291" y="802.3">class = 0</tspan></text></g>
</svg>
